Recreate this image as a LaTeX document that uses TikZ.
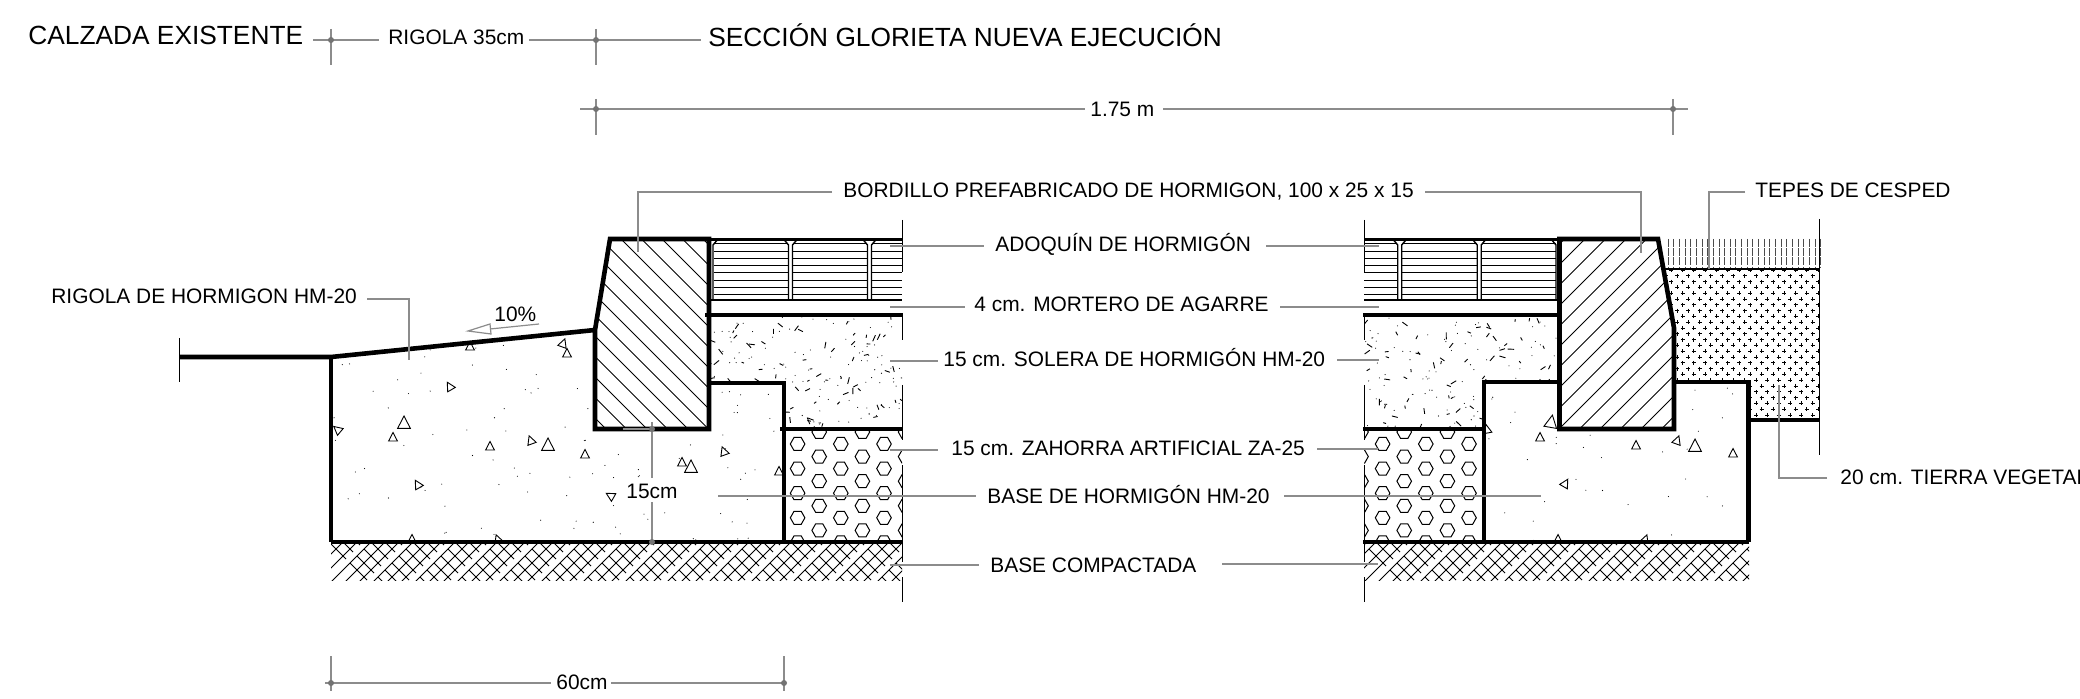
\documentclass[tikz,border=0pt]{standalone}
\usepackage{fontspec}
\setmainfont{Liberation Sans}
\usetikzlibrary{calc}
\definecolor{ldr}{gray}{0.55}
\definecolor{dotc}{gray}{0.45}
\tikzset{
 lab/.style={inner sep=0pt,anchor=base west,yshift=-0.5pt,font=\fontsize{10.45}{12}\selectfont},
 labbig/.style={lab,font=\fontsize{13.15}{15}\selectfont},
 leader/.style={draw=ldr,line width=0.6pt},
 dimln/.style={draw=ldr,line width=0.6pt},
 heavy/.style={draw=black,line width=2.3pt,line join=miter},
 medium/.style={draw=black,line width=1.1pt},
 hl/.style={draw=black,line width=0.5pt},
 breakln/.style={draw=black,line width=0.45pt},
 trimark/.style={draw=black,line width=0.45pt,fill=white},
}
\newcommand\dimdot[1]{\fill[dotc] (#1) circle[radius=3];}
\newcommand\tri[4]{\draw[trimark,shift={(#1,#2)},rotate=#4,scale=#3] (0,-1) -- (.8,.55) -- (-.8,.55) -- cycle;}
% diagonal hatch: start x at y=229, direction +1 = "\" , -1 = "/"
\newcommand\diaghatch[2]{%
 \foreach \i in {-13,...,13}{\draw[hl] ({#1+20.5*\i},229) -- ++({#2*220},220);}}
\newcommand\crossh[2]{%
 \begin{scope}
 \clip (#1,543) rectangle (#2,580);
 \pgfmathtruncatemacro\nl{(#2-#1+60)/14}
 \foreach \i in {0,...,\nl}{\draw[hl] ({#1+14*\i},540) -- ++(-46,46);}
 \foreach \b in {0,...,\nl}{\foreach \s in {-2,...,5}{%
   \pgfmathtruncatemacro\mm{mod(\s+2*\b+6,3)}%
   \ifnum\mm=0
   \draw[hl] ({#1-2+14*\nl+7*(\s-2*\b)},{542+7*\s}) -- ++(17,17);
   \fi}}
 \end{scope}}
\newcommand\hexes[3]{% first column x, x-left clip, x-right clip
 \begin{scope}
 \clip (#2,430) rectangle (#3,542);
 \foreach \c in {0,...,6}{
  \pgfmathsetmacro\hx{#1+21.6*\c}
  \pgfmathtruncatemacro\odd{mod(\c,2)}
  \ifnum\odd=0 \def\hy{432}\else\def\hy{444}\fi
  \foreach \r in {0,...,5}{
   \draw[hl,shift={(\hx,\hy+24.6*\r)}] (-7.3,0) -- (-3.6,-6.5) -- (3.6,-6.5) -- (7.3,0) -- (3.6,6.5) -- (-3.6,6.5) -- cycle;}}
 \end{scope}}
\newcommand\stipple[5]{% n,x,y,w,h
 \foreach \i in {1,...,#1}{\fill[black] ({#2+#4*rnd},{#3+#5*rnd}) circle[radius=0.55];}}
\newcommand\dashes[5]{%
 \foreach \i in {1,...,#1}{\pgfmathsetmacro\aa{rnd*180}\pgfmathsetmacro\ll{2.5+4.5*rnd}
 \draw[black,line width=0.45pt] ({#2+#4*rnd},{#3+#5*rnd}) -- ++(\aa:\ll);}}
\newcommand\paver[2]{% x1 x2
 \foreach \yy in {244,252,259,266,273,281,288,295}{\draw[hl] (#1,\yy) -- (#2,\yy);}}
\begin{document}
\begin{tikzpicture}[x=0.5pt,y=-0.5pt]
\clip (0,0) rectangle (2080,699);
\fill[white] (0,0) rectangle (2080,699);
\pgfmathsetseed{4711}
% ---------- hatches ----------
\begin{scope}\clip (595,330) -- (610,239) -- (709,239) -- (709,429) -- (595,429) -- cycle;
 \diaghatch{611}{1}\end{scope}
\begin{scope}\clip (1560,239) -- (1658,239) -- (1674,328) -- (1674,429) -- (1560,429) -- cycle;
 \diaghatch{1595}{-1}\end{scope}
% concrete left
\begin{scope}\clip (331,357) -- (595,330) -- (595,429) -- (709,429) -- (709,383) -- (784,383) -- (784,542) -- (331,542) -- cycle;
 \stipple{110}{331}{345}{453}{197}
 \tri{470}{347}{5.5}{0}\tri{563}{344}{5.5}{-20}\tri{567}{354}{5.5}{0}\tri{450}{387}{5.5}{30}\tri{404}{424}{8}{0}\tri{393}{438}{5.5}{0}\tri{338}{430}{5.5}{50}\tri{490}{447}{5.5}{0}\tri{531}{441}{5.5}{20}\tri{548}{446}{8}{0}\tri{585}{455}{5.5}{0}\tri{724}{452}{5.5}{20}\tri{682}{463}{5.5}{0}\tri{691}{468}{8}{0}\tri{779}{472}{5.5}{0}\tri{418}{485}{5.5}{30}\tri{611}{496}{5.5}{60}\tri{412}{540}{5.5}{0}\tri{498}{540}{5.5}{20}
\end{scope}
% concrete right
\begin{scope}\clip (1484,382) -- (1560,382) -- (1560,429) -- (1674,429) -- (1674,382) -- (1748,382) -- (1748,542) -- (1484,542) -- cycle;
 \stipple{40}{1484}{382}{264}{160}
 \tri{1551}{423}{8}{-10}\tri{1540}{438}{5.5}{0}\tri{1636}{446}{5.5}{0}\tri{1677}{441}{5.5}{-20}\tri{1695}{447}{8}{0}\tri{1733}{454}{5.5}{0}\tri{1565}{484}{5.5}{-30}\tri{1558}{540}{5.5}{0}\tri{1645}{540}{5.5}{-20}\tri{1487}{430}{5.5}{10}
\end{scope}
% solera
\begin{scope}\clip (709,315) -- (902,315) -- (902,429) -- (784,429) -- (784,383) -- (709,383) -- cycle;
 \stipple{120}{709}{315}{193}{114}\dashes{85}{709}{315}{193}{114}\end{scope}
\begin{scope}\clip (1364,315) -- (1560,315) -- (1560,382) -- (1484,382) -- (1484,429) -- (1364,429) -- cycle;
 \stipple{110}{1364}{315}{196}{114}\dashes{75}{1364}{315}{196}{114}\end{scope}
% hexagons
\hexes{776}{784}{902}
\hexes{1361}{1364}{1484}
% compacted base
\crossh{331}{902}
\crossh{1364}{1749}
% pavers
\paver{714}{788}\paver{793}{867}\paver{872}{902}
\paver{1364}{1397}\paver{1402}{1477}\paver{1482}{1556}
\foreach \xa/\xb in {788.5/792.5,867.5/871.5,1397.7/1401.7,1477.2/1481.2}{
 \draw[medium,line width=0.7pt] (\xa-5,239) -- (\xa,245) -- (\xa,300);
 \draw[medium,line width=0.7pt] (\xb+5,239) -- (\xb,245) -- (\xb,300);}
\draw[medium,line width=0.7pt] (713,300) -- (713,245) -- (718,239);
\draw[medium,line width=0.7pt] (1556,300) -- (1556,245) -- (1551,239);
\draw[medium] (709,239.5) -- (902,239.5);
\draw[medium] (709,300) -- (902,300);
\draw[medium] (1364,239.5) -- (1560,239.5);
\draw[medium] (1364,300) -- (1560,300);
% grass
\foreach \i in {0,...,27}{\draw[black!70,line width=0.35pt,dash pattern=on 4pt off 0.6pt] ({1668+5.65*\i},239) -- ({1668+5.65*\i},268);}
% soil
\begin{scope}\clip (1663,269) -- (1819,269) -- (1819,420) -- (1748,420) -- (1748,382) -- (1674,382) -- (1674,328) -- cycle;
 \foreach \r in {0,...,27}{\foreach \c in {0,...,14}{
  \pgfmathsetmacro\px{1660+11.3*\c+mod(\r,2)*5.65}
  \pgfmathsetmacro\py{270+5.8*\r}
  \draw[black,line width=0.45pt] (\px-2,\py) -- (\px+2,\py) (\px,\py-2) -- (\px,\py+2);}}
\end{scope}
\draw[medium] (1663,269) -- (1819,269);
% break lines
\foreach \ya/\yb in {220/272,317/340,385/440,465/562,577/602}{
 \draw[breakln] (902,\ya) -- (902,\yb);
 \draw[breakln] (1364,\ya) -- (1364,\yb);}
\draw[breakln] (1819,219) -- (1819,455);
\draw[breakln] (179,338) -- (179,382);
% ---------- heavy outlines ----------
\draw[heavy] (179,357) -- (331,357) -- (595,330);
\draw[heavy] (331,357) -- (331,542);
\draw[heavy] (595,429) -- (595,330) -- (610,239) -- (709,239) -- (709,429) -- cycle;
\draw[heavy] (709,383) -- (784,383) -- (784,542);
\draw[heavy] (705,315) -- (903,315);
\draw[heavy] (780,429) -- (903,429);
\draw[heavy] (331,542) -- (903,542);
\draw[heavy] (1559.5,429) -- (1559.5,239) -- (1658,239) -- (1674,328) -- (1674,429) -- cycle;
\draw[heavy] (1363,315) -- (1560,315);
\draw[heavy] (1560,382) -- (1484,382) -- (1484,542);
\draw[heavy] (1363,429) -- (1484,429);
\draw[heavy] (1674,382) -- (1748.5,382) -- (1748.5,542);
\draw[heavy] (1748,420) -- (1820,420);
\draw[heavy] (1363,542) -- (1749,542);
% ---------- texts ----------
\node[labbig] (calzada) at (28,44) {CALZADA EXISTENTE};
\node[lab] (rigola35) at (388,44) {RIGOLA 35cm};
\node[labbig] (seccion) at (708,46) {SECCIÓN GLORIETA NUEVA EJECUCIÓN};
\node[lab] (d175) at (1090,116) {1.75 m};
\node[lab] (bordillo) at (843,197) {BORDILLO PREFABRICADO DE HORMIGON, 100 x 25 x 15};
\node[lab] (tepes) at (1755,197) {TEPES DE CESPED};
\node[lab] (adoquin) at (995,251) {ADOQUÍN DE HORMIGÓN};
\node[lab] (mortero) at (974,311) {4 cm. MORTERO DE AGARRE};
\node[lab] (solera) at (943,366) {15 cm. SOLERA DE HORMIGÓN HM-20};
\node[lab] (zahorra) at (951,455) {15 cm. ZAHORRA ARTIFICIAL ZA-25};
\node[lab] (basehm) at (987,502) {BASE DE HORMIGÓN HM-20};
\node[lab] (basecomp) at (990,571) {BASE COMPACTADA};
\node[lab] (tierra) at (1840,483) {20 cm. TIERRA VEGETAL};
\node[lab] (rigolade) at (51,303) {RIGOLA DE HORMIGON HM-20};
\node[lab] (pct) at (494,321) {10\%};
\node[lab] (d15) at (626,497) {15cm};
\node[lab] (d60) at (556,688) {60cm};
% ---------- dimension coordinates ----------
\coordinate (a1) at (331,40); \coordinate (a2) at (596,40);
\coordinate (b1) at (596,109); \coordinate (b2) at (1673,109);
\coordinate (c1) at (331,683); \coordinate (c2) at (784,683);
\coordinate (e1) at (652,429); \coordinate (e2) at (652,542);
% top dimension
\draw[dimln] (313,40) -- (379,40);
\draw[dimln] (529,40) -- (701,40);
\draw[dimln] (a1)++(0,-11) -- ++(0,36);
\draw[dimln] (a2)++(0,-11) -- ++(0,36);
\dimdot{a1}\dimdot{a2}
% 1.75 m
\draw[dimln] (580,109) -- (1085,109);
\draw[dimln] (1163,109) -- (1688,109);
\draw[dimln] (b1)++(0,-10) -- ++(0,36);
\draw[dimln] (b2)++(0,-10) -- ++(0,36);
\dimdot{b1}\dimdot{b2}
% 60 cm
\draw[dimln] (325,683) -- (551,683);
\draw[dimln] (611,683) -- (784,683);
\draw[dimln] (c1)++(0,-27) -- ++(0,35);
\draw[dimln] (c2)++(0,-27) -- ++(0,35);
\dimdot{c1}\dimdot{c2}
% 15 cm
\draw[dimln] (652,422) -- (652,478);
\draw[dimln] (652,502) -- (e2);
\draw[dimln] (623,429) -- (e1);
\dimdot{e1}\dimdot{e2}
% leaders
\draw[leader] (832,192) -- (638,192) -- (638,252);
\draw[leader] (1425,192) -- (1641,192) -- (1641,253);
\draw[leader] (1745,192) -- (1709,192) -- (1709,269);
\draw[leader] (890,246) -- (984,246);
\draw[leader] (1266,246) -- (1379,246);
\draw[leader] (890,307) -- (965,307);
\draw[leader] (1280,307) -- (1379,307);
\draw[leader] (890,361) -- (938,361);
\draw[leader] (1337,360) -- (1379,360);
\draw[leader] (890,450) -- (938,450);
\draw[leader] (1317,449) -- (1378,449);
\draw[leader] (718,496) -- (976,496);
\draw[leader] (1284,496) -- (1541,496);
\draw[leader] (890,565) -- (979,565);
\draw[leader] (1222,564) -- (1378,564);
\draw[leader] (1827,478) -- (1779,478) -- (1779,385);
\draw[leader] (367,299) -- (409,299) -- (409,360);
% slope arrow
\draw[leader] (539,324) -- (490,329);
\draw[leader,fill=white] (490,324) -- (468,331) -- (491,334) -- cycle;
\end{tikzpicture}
\end{document}
